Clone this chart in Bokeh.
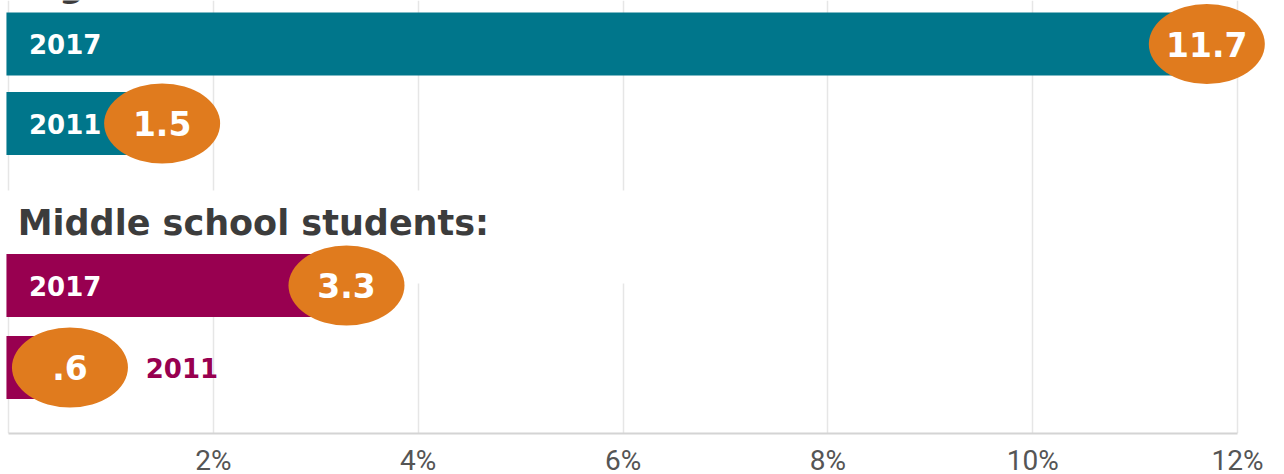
from bokeh.plotting import figure
from bokeh.models import Range1d, FixedTicker, ColumnDataSource
from bokeh.core.properties import value
from bokeh.embed import file_html
from bokeh.resources import INLINE

# ---- data ----
groups = ["High school students:", "Middle school students:"]
years = ["2017", "2011"]
high_school = [11.7, 1.5]
middle_school = [3.3, 0.6]
value_labels_high = ["11.7", "1.5"]
value_labels_middle = ["3.3", ".6"]
tick_values = [2, 4, 6, 8, 10, 12]
tick_labels = ["2%", "4%", "6%", "8%", "10%", "12%"]

TEAL = "#00768B"
MAGENTA = "#980050"
ORANGE = "#E07B1E"
HEAD = "#3c3c3c"
FONT = value("DejaVu Sans")

# layout (screen-like y coordinates, top = 0)
bar_centers_high = [43.5, 123.0]
bar_centers_mid = [285.0, 367.0]
BAR_H = 63

PX_PER_UNIT = 102.42
X0 = 8  # pixel position of 0%
p = figure(frame_width=1284, frame_height=433, output_backend="svg",
           toolbar_location=None, min_border=0, min_border_bottom=40,
           x_range=Range1d(-X0 / PX_PER_UNIT, (1284 - X0) / PX_PER_UNIT),
           y_range=Range1d(433, 0))
p.outline_line_color = None
p.background_fill_color = "white"
p.border_fill_color = "white"

p.yaxis.visible = False
p.ygrid.visible = False
p.xgrid.ticker = FixedTicker(ticks=[0] + tick_values)
p.xgrid.grid_line_color = "#e6e6e6"
p.xgrid.grid_line_width = 1.5

ax = p.xaxis[0]
ax.ticker = FixedTicker(ticks=tick_values)
ax.major_label_overrides = {t: l for t, l in zip(tick_values, tick_labels)}
ax.bounds = (0, 12)
ax.axis_line_color = "#d4d4d4"
ax.axis_line_width = 2
ax.major_tick_line_color = None
ax.minor_tick_line_color = None
ax.major_label_text_font = "Roboto"
ax.major_label_text_font_size = "28px"
ax.major_label_text_color = "#555555"
ax.major_label_standoff = 4

# white box behind the middle-school header (hides grid lines)
p.quad(left=[-0.5], right=[7.0], bottom=[283], top=[190], fill_color="white",
       line_color=None)

# headers (the first one sits mostly above the visible area, as in the source)
p.text(x=[0.09], y=[-16], text=[groups[0]], text_font=FONT, text_font_style="bold",
       text_font_size="35px", text_color=HEAD, text_baseline="alphabetic")
p.text(x=[0.09], y=[222], text=[groups[1]], text_font=FONT, text_font_style="bold",
       text_font_size="35px", text_color=HEAD, text_baseline="middle")

# bars
p.hbar(y=bar_centers_high, left=-0.02, right=high_school, height=BAR_H,
       fill_color=TEAL, line_color=None)
p.hbar(y=bar_centers_mid, left=-0.02, right=middle_school, height=BAR_H,
       fill_color=MAGENTA, line_color=None)

# year labels
p.text(x=[0.2, 0.2], y=bar_centers_high, text=years, text_font=FONT,
       text_font_style="bold", text_font_size="26px", text_color="white",
       text_baseline="middle")
p.text(x=[0.2], y=[bar_centers_mid[0]], text=[years[0]], text_font=FONT,
       text_font_style="bold", text_font_size="26px", text_color="white",
       text_baseline="middle")
p.text(x=[middle_school[1] + 0.74], y=[bar_centers_mid[1]], text=[years[1]],
       text_font=FONT, text_font_style="bold", text_font_size="26px",
       text_color=MAGENTA, text_baseline="middle")

# value bubbles
all_vals = high_school + middle_school
all_y = bar_centers_high + bar_centers_mid
all_lbl = value_labels_high + value_labels_middle
src = ColumnDataSource(dict(x=all_vals, y=all_y, t=all_lbl))
p.ellipse(x="x", y="y", width=116, height=80, width_units="screen",
          height_units="screen", fill_color=ORANGE, line_color=None, source=src)
p.text(x="x", y="y", text="t", text_font=FONT, text_font_style="bold",
       text_font_size="33px", text_color="white", text_align="center",
       text_baseline="middle", source=src)

open("out.html", "w").write(file_html(p, INLINE))
